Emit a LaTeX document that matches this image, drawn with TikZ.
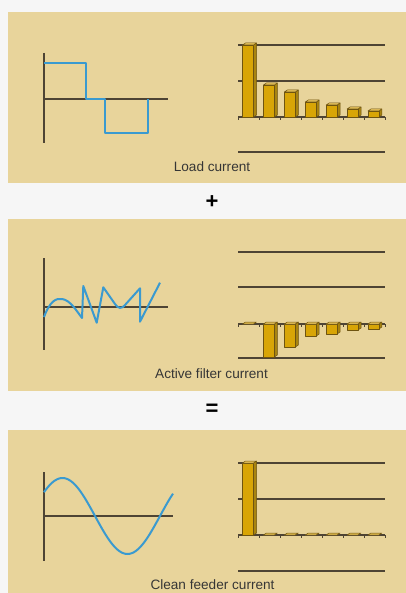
\documentclass[tikz,border=0pt]{standalone}
\usepackage{fontspec}
\setmainfont{Liberation Sans}
\definecolor{pagebg}{HTML}{F6F6F6}
\definecolor{panel}{HTML}{E8D49B}
\definecolor{axisc}{HTML}{4E4434}
\definecolor{wave}{HTML}{3A9AD0}
\definecolor{barfront}{HTML}{D8A506}
\definecolor{barside}{HTML}{A88410}
\definecolor{bartop}{HTML}{E8C45E}
\definecolor{baredge}{HTML}{6E5410}
\definecolor{txt}{HTML}{363636}
\tikzset{
  panelbox/.style={fill=panel, draw=none},
  axisline/.style={draw=axisc, line width=1.2pt},
  gridline/.style={draw=axisc, line width=1.2pt},
  waveline/.style={draw=wave, line width=2pt, line join=round},
  caption/.style={anchor=base, text=txt, font=\fontsize{13.6}{16}\selectfont, inner sep=0pt},
  opsign/.style={text=black, font=\fontsize{22}{24}\selectfont\bfseries, inner sep=0pt},
  barface/.style={draw=baredge, line width=0.5pt, line join=round},
}
% bar: #1 left x, #2 top y, #3 bottom y  (y grows downwards)
\newcommand{\drawbar}[3]{%
  \fill[barside, barface] (#1+11,#2) -- (#1+14,#2-2) -- (#1+14,#3-2) -- (#1+11,#3) -- cycle;
  \fill[barfront, barface] (#1,#2) rectangle (#1+11,#3);
  \fill[bartop, barface] (#1,#2) -- (#1+3,#2-2) -- (#1+14,#2-2) -- (#1+11,#2) -- cycle;
}
\newcommand{\flatbar}[2]{%
  \fill[bartop!80!barside, barface] (#1,#2) -- (#1+3,#2-2) -- (#1+14,#2-2) -- (#1+11,#2) -- cycle;
}
\newcommand{\chartgrid}[4]{%
  \draw[gridline] (238,#1) -- (385,#1);
  \draw[gridline] (238,#2) -- (385,#2);
  \draw[gridline] (238,#4) -- (385,#4);
  \draw[gridline] (238,#3) -- (385,#3);
  \foreach \k in {0,...,7} \draw[axisc, line width=0.8pt] (238+21*\k,#3) -- (238+21*\k,#3+3);
}
\begin{document}
\begin{tikzpicture}[x=1pt, y=-1pt]
\useasboundingbox (0,0) rectangle (406,593);
\fill[pagebg] (0,0) rectangle (406,593);
% panels
\fill[panelbox] (8,12) rectangle (406,183);
\fill[panelbox] (8,219) rectangle (406,391);
\fill[panelbox] (8,430) rectangle (406,593);

% ---------- Panel 1: load current ----------
\draw[axisline] (44,53) -- (44,143);
\draw[axisline] (44,99) -- (168,99);
\draw[waveline] (44,63) -- (86,63) -- (86,99) -- (105,99) -- (105,133) -- (148,133) -- (148,99);
\chartgrid{45}{81}{117}{152}
\drawbar{242.5}{45}{117}
\drawbar{263.4}{85}{117}
\drawbar{284.3}{92}{117}
\drawbar{305.2}{102}{117}
\drawbar{326.1}{105}{117}
\drawbar{347.0}{109}{117}
\drawbar{367.9}{111}{117}
\node[caption] (cap1) at (212,172) {Load current};

\node[opsign] (plus) at (212,202) {+};

% ---------- Panel 2: active filter current ----------
\draw[axisline] (44,258) -- (44,350);
\draw[axisline] (44,307) -- (168,307);
\draw[waveline] (44,317) .. controls (50,301) and (56,298) .. (62,299)
  .. controls (70,300) and (76,310) .. (82,318)
  -- (83.3,286) -- (96.7,322.7) -- (103.3,287.3) -- (115,304)
  .. controls (118,309) and (122,309) .. (125,305)
  -- (140,288.3) -- (140,321.7) -- (160,282.7);
\chartgrid{252}{287}{324}{358}
\flatbar{242.5}{324}
\drawbar{263.4}{324}{357}
\drawbar{284.3}{324}{347}
\drawbar{305.2}{324}{336}
\drawbar{326.1}{324}{334}
\drawbar{347.0}{324}{330}
\drawbar{367.9}{324}{329}
\node[caption] (cap2) at (211.5,378) {Active filter current};

\node[opsign] (equals) at (212,410) {=};

% ---------- Panel 3: clean feeder current ----------
\draw[axisline] (44,472) -- (44,561);
\draw[axisline] (44,516) -- (173,516);
\draw[waveline] plot[domain=44:173, samples=80, smooth] (\x, {516-38*sin(2.76923*(\x-30))});
\chartgrid{463}{499}{535}{571}
\drawbar{242.5}{463}{535}
\flatbar{263.4}{535}
\flatbar{284.3}{535}
\flatbar{305.2}{535}
\flatbar{326.1}{535}
\flatbar{347.0}{535}
\flatbar{367.9}{535}
\node[caption] (cap3) at (212.5,589) {Clean feeder current};
\end{tikzpicture}
\end{document}
